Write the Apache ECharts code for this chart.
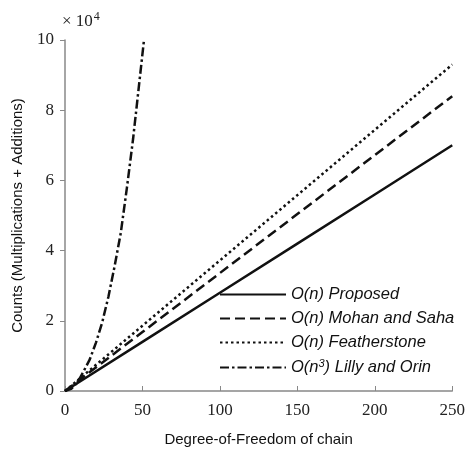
<!DOCTYPE html>
<html>
<head>
<meta charset="utf-8">
<script src="https://cdn.jsdelivr.net/npm/echarts@6/dist/echarts.min.js"></script>
<style>
  html, body { margin: 0; padding: 0; background: #fff; }
  #chart { width: 468px; height: 452px; }
</style>
</head>
<body>
<div id="chart"></div>
<script>
"use strict";
// degrees of freedom for the linear O(n) algorithms
const dofLinear = [0, 50, 100, 150, 200, 250];
const proposed = [0, 14000, 28000, 42000, 56000, 70000];
const mohanSaha = [0, 16800, 33600, 50400, 67200, 84000];
const featherstone = [0, 18600, 37200, 55800, 74400, 93000];
// O(n^3) curve
const dofCubic = [0, 4, 8, 12, 16, 20, 24, 28, 32, 36, 40, 44, 48, 51];
const lillyOrin = [0, 600, 2400, 5600, 9000, 13800, 19500, 26800, 35500, 45000, 58000, 72000, 88000, 100000];
const xTicks = [0, 50, 100, 150, 200, 250];
const yTicks = [0, 2, 4, 6, 8, 10];

const pairs = (xs, ys) => xs.map((x, i) => [x, ys[i]]);

let chart = echarts.init(document.getElementById('chart'));
let lineBase = {type: 'line', symbol: 'none', smooth: false, animation: false, itemStyle: {color: '#111'}};
let option = {
    animation: false,
    grid: {left: 65, right: 11, top: 40, bottom: 61},
    graphic: [{
        type: 'text',
        left: 62,
        top: 11,
        style: {
            text: '× 10{s|4}',
            font: '17px "Liberation Serif"',
            fill: '#222',
            rich: {s: {font: '12px "Liberation Serif"', verticalAlign: 'top', padding: [0, 0, 10, 1]}}
        }
    }],
    legend: {
        orient: 'vertical',
        left: 214,
        top: 281,
        itemWidth: 66,
        itemHeight: 12,
        itemGap: 7,
        itemStyle: {opacity: 0},
        textStyle: {
            fontFamily: 'Liberation Sans',
            fontStyle: 'italic',
            fontSize: 16.5,
            color: '#111',
            rich: {
                t: {fontFamily: 'Liberation Sans', fontStyle: 'italic', fontSize: 16.5, color: '#111'},
                s: {fontFamily: 'Liberation Sans', fontSize: 11, color: '#111', verticalAlign: 'top', padding: [0, 0, 8, 0]}
            }
        },
        formatter: function (name) {
            if (name === 'lilly') {
                return '{t|O(n}{s|3}{t|) Lilly and Orin}';
            }
            return name;
        },
        data: ['O(n) Proposed', 'O(n) Mohan and Saha', 'O(n) Featherstone', 'lilly']
    },
    xAxis: {
        type: 'value',
        min: 0,
        max: 250,
        interval: 50,
        name: 'Degree-of-Freedom of chain',
        nameLocation: 'middle',
        nameGap: 41,
        nameTextStyle: {fontFamily: 'Liberation Sans', fontSize: 15, color: '#111'},
        splitLine: {show: false},
        axisLine: {lineStyle: {color: '#888', width: 1.5}},
        axisTick: {inside: true, length: 5, lineStyle: {color: '#888'}},
        axisLabel: {
            fontFamily: 'Liberation Serif', fontSize: 17, color: '#222', margin: 11,
            formatter: v => xTicks.includes(v) ? String(v) : ''
        }
    },
    yAxis: {
        type: 'value',
        min: 0,
        max: 100000,
        interval: 20000,
        name: 'Counts (Multiplications + Additions)',
        nameLocation: 'middle',
        nameGap: 40,
        nameTextStyle: {fontFamily: 'Liberation Sans', fontSize: 15, color: '#111'},
        splitLine: {show: false},
        axisLine: {show: true, lineStyle: {color: '#888', width: 1.5}},
        axisTick: {show: true, length: 5, lineStyle: {color: '#888'}},
        axisLabel: {
            fontFamily: 'Liberation Serif', fontSize: 17, color: '#222', margin: 11,
            formatter: v => String(yTicks[Math.round(v / 20000)])
        }
    },
    series: [
        Object.assign({}, lineBase, {
            name: 'O(n) Proposed',
            data: pairs(dofLinear, proposed),
            lineStyle: {color: '#111', width: 2.5, type: 'solid'}
        }),
        Object.assign({}, lineBase, {
            name: 'O(n) Mohan and Saha',
            data: pairs(dofLinear, mohanSaha),
            lineStyle: {color: '#111', width: 2.5, type: [10, 5]}
        }),
        Object.assign({}, lineBase, {
            name: 'O(n) Featherstone',
            data: pairs(dofLinear, featherstone),
            lineStyle: {color: '#111', width: 2.5, type: [2.5, 3]}
        }),
        Object.assign({}, lineBase, {
            name: 'lilly',
            data: pairs(dofCubic, lillyOrin),
            lineStyle: {color: '#111', width: 2.5, type: [9, 3, 2.5, 3]}
        })
    ]
};
chart.setOption(option);
</script>
</body>
</html>
